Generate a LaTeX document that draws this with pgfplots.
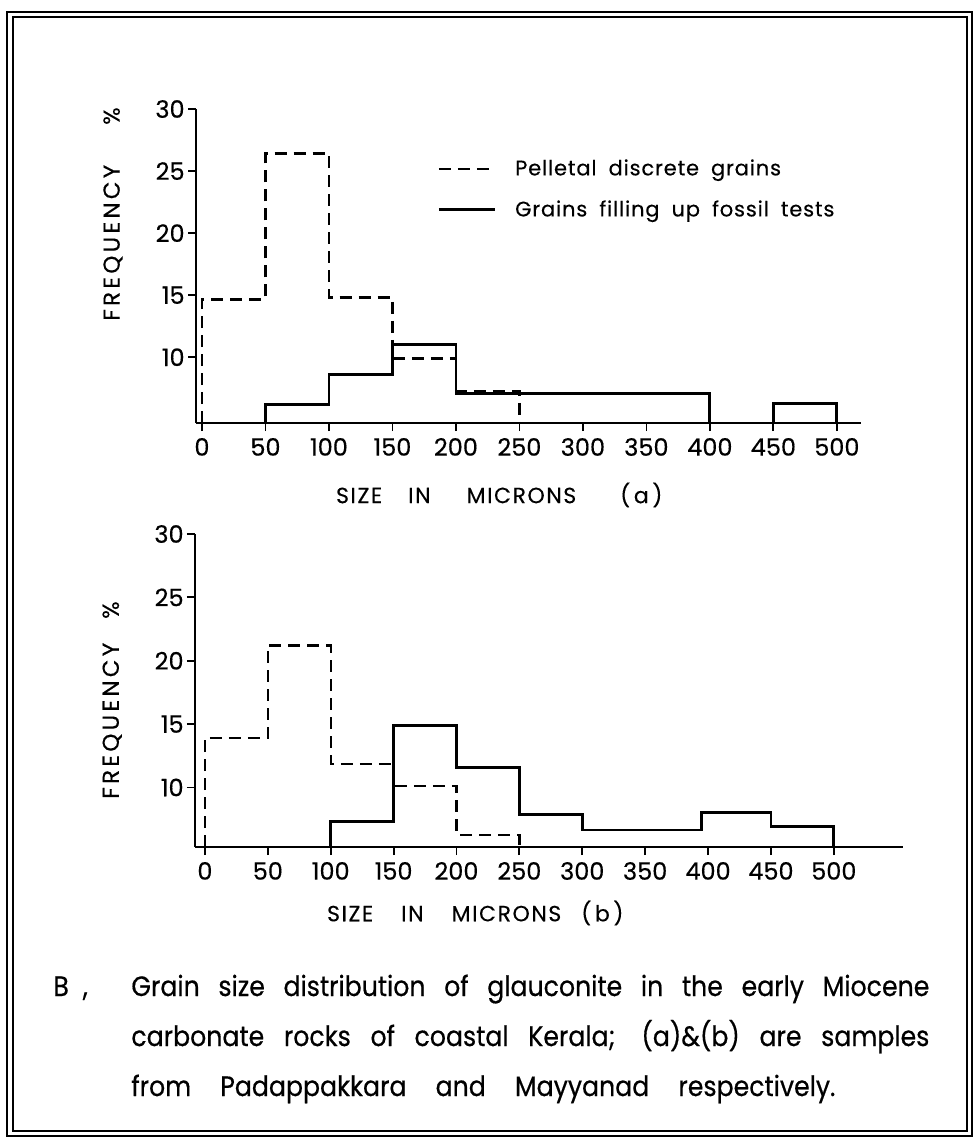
\documentclass[border=0pt]{standalone}
\usepackage{fontspec}
\setmainfont{Poppins}
\newfontfamily\hv{Poppins}[FakeBold=0.4]
\newfontfamily\capfont{Poppins}[FakeStretch=0.9, FakeBold=0.5]
\newfontfamily\lsfont{Poppins}[LetterSpace=7, FakeBold=0.3]
\newfontfamily\lgfont{Poppins}[LetterSpace=4, FakeBold=0.3]
\newfontfamily\ylfont{Poppins}[LetterSpace=14, FakeBold=0.4]
\usepackage{pgfplots}
\pgfplotsset{compat=1.18}

\pgfplotsset{histax/.style={
  scale only axis,
  axis lines*=left,
  axis line style={line width=1pt},
  tick align=outside,
  major tick length=4pt,
  tick style={line width=0.9pt, black},
  xtick={0,50,...,500},
  ytick={10,15,20,25,30},
  /pgf/number format/assume math mode=true,
  ticklabel style={font=\hv\fontsize{12}{14}\selectfont},
  yticklabel style={inner sep=1.5pt},
  xlabel style={font=\lsfont\fontsize{11}{13}\selectfont, anchor=west},
  ylabel style={font=\ylfont\fontsize{11.5}{13}\selectfont, anchor=center},
  clip=false,
},
dsh/.style={black, line width=1.2pt, dash pattern=on 6pt off 3.5pt, const plot mark left},
sld/.style={black, line width=1.4pt, const plot mark left},
}

\begin{document}
\begin{tikzpicture}
\useasboundingbox (0pt,0pt) rectangle (487.5pt,-570pt);
% frame
\draw[line width=1.3pt] (3.5pt,-6pt) rectangle (486pt,-568pt);
\draw[line width=0.6pt] (6.5pt,-8.5pt) rectangle (483.5pt,-565.5pt);

% ---------- (a) ----------
\begin{axis}[histax,
  at={(98pt,-211.5pt)}, anchor=south west,
  width=332.5pt, height=157pt,
  xmin=-4.7, xmax=519, ymin=4.7, ymax=30,
  xlabel={SIZE\hspace{13pt}IN\hspace{18pt}MICRONS\hspace{22pt}(\,a\,)},
  xlabel style={at={(axis description cs:0.2,-0.229)}},
  ylabel={FREQUENCY\hspace{20pt}\%},
  ylabel style={at={(axis description cs:-0.1248,0.6656)}},
  legend style={at={(axis description cs:0.3624,0.744)}, anchor=west,
    draw=none, fill=none, inner sep=0pt,
    font=\lgfont\fontsize{10.5}{12}\selectfont,
    nodes={inner sep=0pt, anchor=west}, column sep=9.5pt, row sep=11pt},
  legend cell align=left,
  legend image code/.code={\draw[#1] (0pt,0pt) -- (28pt,0pt);},
]
\addplot[dsh] coordinates {(0,4.7) (0,14.65) (50,26.4) (100,14.8) (150,9.9) (200,7.25) (250,4.7)};
\addlegendentry{Pelletal\hspace{6pt}discrete\hspace{6pt}grains}
\addplot[sld] coordinates {(50,4.7) (50,6.2) (100,8.6) (150,11.0) (200,7.1) (400,4.7) (450,6.3) (500,4.7)};
\addlegendentry{Grains\hspace{6pt}filling\hspace{6pt}up\hspace{6pt}fossil\hspace{6pt}tests}
\end{axis}

% ---------- (b) ----------
\begin{axis}[histax,
  at={(97.5pt,-423.5pt)}, anchor=south west,
  width=354pt, height=156.5pt,
  xmin=-7.9, xmax=555, ymin=5.3, ymax=30,
  xlabel={SIZE\hspace{14pt}IN\hspace{14pt}MICRONS\hspace{10pt}(\,b\,)},
  xlabel style={at={(axis description cs:0.1766,-0.211)}},
  ylabel={FREQUENCY\hspace{12pt}\%},
  ylabel style={at={(axis description cs:-0.117,0.4696)}},
]
\addplot[dsh] coordinates {(0,5.3) (0,13.9) (50,21.2) (100,11.85) (150,10.1) (200,6.25) (250,5.3)};
\addplot[sld] coordinates {(100,5.3) (100,7.3) (150,14.9) (200,11.55) (250,7.85) (300,6.65) (395,8.0) (450,6.9) (500,5.3)};
\end{axis}

% ---------- caption ----------
\begin{scope}[every node/.style={anchor=base west, inner sep=0pt, font=\capfont\fontsize{14}{16}\selectfont}]
\node at (26.5pt,-498pt) {B\hspace{7pt},};
\node at (65.5pt,-498pt) {\makebox[399pt][s]{Grain size distribution of glauconite in the early Miocene}};
\node at (65.5pt,-523pt) {\makebox[399pt][s]{carbonate rocks of coastal Kerala; (a)\&(b) are samples}};
\node at (65.5pt,-548pt) {\makebox[352pt][s]{from Padappakkara and Mayyanad respectively.}};
\end{scope}
\end{tikzpicture}
\end{document}
